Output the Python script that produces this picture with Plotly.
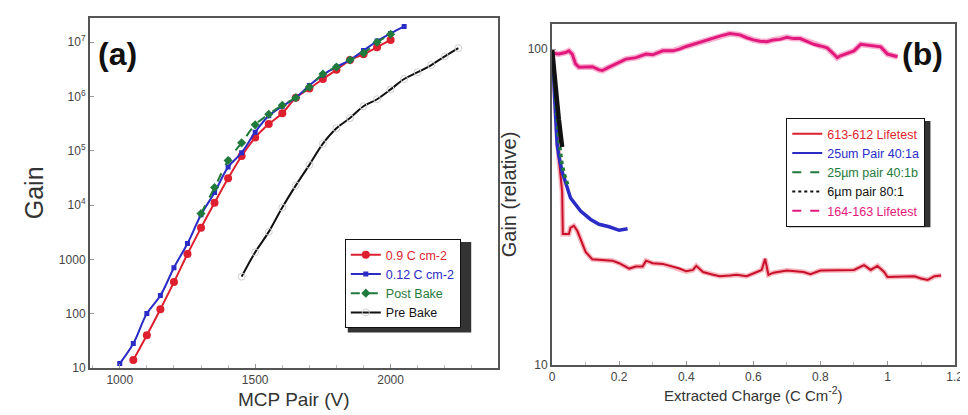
import plotly.graph_objects as go

# ---- panel (a): gain vs MCP pair voltage ----
red_v = [1050, 1100, 1150, 1200, 1250, 1300, 1350, 1400, 1450, 1500, 1550, 1600, 1650,
         1700, 1750, 1800, 1850, 1900, 1950, 2000]
red_gain = [14, 40, 120, 380, 1250, 3800, 11000, 31000, 80000, 175000, 310000, 490000, 950000,
            1.4e6, 2.1e6, 3.1e6, 4.7e6, 6.0e6, 8.1e6, 1.1e7]

blue_v = [1000, 1050, 1100, 1150, 1200, 1250, 1300, 1350, 1400, 1450, 1500, 1550, 1600,
          1650, 1700, 1750, 1800, 1850, 1900, 1950, 2000, 2050]
blue_gain = [12, 28, 100, 215, 700, 1950, 6600, 17000, 50000, 92000, 220000, 440000, 660000,
             950000, 1.6e6, 2.5e6, 3.5e6, 4.7e6, 7.0e6, 1.05e7, 1.45e7, 1.95e7]

green_v = [1300, 1350, 1400, 1450, 1500, 1550, 1600, 1650, 1700, 1750, 1800, 1850, 1900,
           1950, 2000]
green_gain = [7000, 21000, 66000, 140000, 300000, 470000, 690000, 950000, 1.5e6, 2.6e6,
              3.5e6, 4.7e6, 6.3e6, 1.0e7, 1.4e7]

pre_v = [1450, 1500, 1550, 1600, 1650, 1700, 1750, 1800, 1850, 1900, 1950, 2000, 2050,
         2100, 2150, 2200, 2250]
pre_gain = [480, 1350, 3200, 9000, 23000, 55000, 135000, 260000, 400000, 660000, 890000,
            1.35e6, 2.1e6, 2.8e6, 3.8e6, 5.5e6, 7.8e6]

gain_ticks = [10, 100, 1000, 1e4, 1e5, 1e6, 1e7]
gain_labels = ["10", "100", "1000", "10<sup>4</sup>", "10<sup>5</sup>", "10<sup>6</sup>",
               "10<sup>7</sup>"]

# ---- panel (b): relative gain vs extracted charge ----
pink_q = [0, 0.02, 0.04, 0.05, 0.06, 0.07, 0.08, 0.1, 0.12, 0.14, 0.15, 0.17, 0.2, 0.22,
          0.25, 0.28, 0.3, 0.33, 0.36, 0.38, 0.4, 0.42, 0.45, 0.48, 0.5, 0.53, 0.56, 0.58,
          0.6, 0.62, 0.64, 0.66, 0.68, 0.7, 0.72, 0.74, 0.76, 0.78, 0.8, 0.82, 0.84, 0.85,
          0.86, 0.88, 0.9, 0.92, 0.94, 0.96, 0.98, 1.0, 1.02, 1.03]
pink_rel = [97, 96.5, 97.6, 98.8, 96.5, 89.8, 87.7, 87.7, 88, 86, 85.6, 87.7, 91, 93,
            94, 96.5, 96, 98.8, 98.8, 100, 102, 103.6, 106, 108.7, 110, 112, 111, 108.7,
            107, 106, 105.6, 107, 107.4, 109, 108, 108, 106, 103.6, 102.4, 101, 96.5, 94,
            95.3, 97, 98.8, 103.6, 103, 102.4, 101.7, 96.5, 95.3, 94.6]

life_q = [0, 0.01, 0.02, 0.03, 0.032, 0.04, 0.05, 0.055, 0.065, 0.075, 0.09, 0.1, 0.12,
          0.15, 0.18, 0.2, 0.23, 0.25, 0.27, 0.28, 0.3, 0.33, 0.36, 0.38, 0.4, 0.42, 0.43,
          0.45, 0.48, 0.5, 0.53, 0.55, 0.58, 0.6, 0.62, 0.625, 0.635, 0.645, 0.66, 0.7,
          0.75, 0.77, 0.8, 0.85, 0.9, 0.93, 0.95, 0.97, 0.99, 1.0, 1.05, 1.08, 1.1, 1.12,
          1.14, 1.16]
life_rel = [100, 65, 45, 35.4, 26, 26, 26, 27.2, 27.6, 26.6, 24.2, 22.8, 21.6,
            21.5, 21.4, 21, 20.2, 20.5, 20.5, 21.4, 21, 20.9, 20.5, 20.2, 19.8, 20, 20.6,
            19.7, 19.3, 19.1, 19.2, 19.3, 19.1, 19.5, 19.9, 20, 21.7, 19.3, 19.6, 19.9,
            19.7, 19.4, 19.9, 20, 20, 20.7, 20, 20.6, 19.7, 19, 19, 19.1, 18.8, 18.6,
            19.1, 19.2]

pair_a_q = [0, 0.005, 0.01, 0.015, 0.02, 0.03, 0.055, 0.085, 0.115, 0.14, 0.17, 0.2, 0.225]
pair_a_rel = [100, 80, 62, 50, 46, 40.9, 33.8, 30.7, 28.9, 27.9, 27.4, 26.7, 27]

pair_b_q = [0, 0.01, 0.02, 0.03, 0.04, 0.05]
pair_b_rel = [100, 70, 52, 43, 39, 36.5]

pair_6_q = [0, 0.005, 0.01, 0.015, 0.02, 0.025, 0.03]
pair_6_rel = [100, 90, 78, 68, 60, 55, 49]

RED, BLUE, GREEN, BLACK, PINK = "#dd1f2f", "#2b2bc6", "#1f7a3c", "#111111", "#e2197c"
FONT = "Liberation Sans, Arial, sans-serif"


def lbl(text, color):
    return f"<span style='color:{color}'>{text}</span>"


fig = go.Figure()

# panel (a)
fig.add_trace(go.Scatter(x=red_v, y=red_gain, mode="lines+markers",
                         line=dict(color=RED, width=2, shape="spline"),
                         marker=dict(symbol="circle", size=8, color=RED),
                         name=lbl("0.9 C cm-2", RED), legend="legend"))
fig.add_trace(go.Scatter(x=blue_v, y=blue_gain, mode="lines+markers",
                         line=dict(color=BLUE, width=2, shape="spline"),
                         marker=dict(symbol="square", size=5, color=BLUE),
                         name=lbl("0.12 C cm-2", BLUE), legend="legend"))
fig.add_trace(go.Scatter(x=green_v, y=green_gain, mode="lines+markers",
                         line=dict(color=GREEN, width=2, dash="dash", shape="spline"),
                         marker=dict(symbol="diamond", size=7, color=GREEN),
                         name=lbl("Post Bake", GREEN), legend="legend"))
fig.add_trace(go.Scatter(x=pre_v, y=pre_gain, mode="lines+markers",
                         line=dict(color=BLACK, width=2, shape="spline"),
                         marker=dict(symbol="circle-open", size=7, color="#d0d0d0"),
                         name=lbl("Pre Bake", BLACK), legend="legend"))

# panel (b) – drawn traces
fig.add_trace(go.Scatter(x=pink_q, y=pink_rel, xaxis="x2", yaxis="y2", mode="lines",
                         line=dict(color="rgba(240,80,150,0.45)", width=6), showlegend=False))
fig.add_trace(go.Scatter(x=pink_q, y=pink_rel, xaxis="x2", yaxis="y2", mode="lines",
                         line=dict(color=PINK, width=3), showlegend=False))
fig.add_trace(go.Scatter(x=life_q, y=life_rel, xaxis="x2", yaxis="y2", mode="lines",
                         line=dict(color="rgba(240,90,110,0.45)", width=5), showlegend=False))
fig.add_trace(go.Scatter(x=life_q, y=life_rel, xaxis="x2", yaxis="y2", mode="lines",
                         line=dict(color="#c8102a", width=2), showlegend=False))
fig.add_trace(go.Scatter(x=pair_a_q, y=pair_a_rel, xaxis="x2", yaxis="y2", mode="lines",
                         line=dict(color=BLUE, width=3.5), showlegend=False))
fig.add_trace(go.Scatter(x=pair_b_q, y=pair_b_rel, xaxis="x2", yaxis="y2", mode="lines",
                         line=dict(color=GREEN, width=3.5, dash="dot"), showlegend=False))
fig.add_trace(go.Scatter(x=pair_6_q, y=pair_6_rel, xaxis="x2", yaxis="y2", mode="lines",
                         line=dict(color=BLACK, width=4.5), showlegend=False))

# panel (b) – legend entries
for name, color, dash in [("613-612 Lifetest", RED, "solid"), ("25um Pair 40:1a", BLUE, "solid"),
                          ("25µm pair 40:1b", GREEN, "dash"), ("6µm pair 80:1", BLACK, "dot"),
                          ("164-163 Lifetest", PINK, "dash")]:
    fig.add_trace(go.Scatter(x=[None], y=[None], xaxis="x2", yaxis="y2", mode="lines",
                             line=dict(color=color, width=2, dash=dash),
                             name=lbl(name, color), legend="legend2"))

axis_common = dict(showline=True, linecolor="#555555", linewidth=2, mirror=True,
                   ticks="inside", ticklen=4, tickcolor="#999999", showgrid=False, zeroline=False,
                   tickfont=dict(family=FONT, size=12, color="#444444"))

fig.update_layout(
    width=968, height=415, margin=dict(l=0, r=0, t=0, b=0),
    plot_bgcolor="white", paper_bgcolor="white",
    font=dict(family=FONT, color="#333333"),
    xaxis=dict(domain=[0.0826, 0.509], range=[890, 2395], tickvals=[1000, 1500, 2000],
               minor=dict(dtick=100, ticks="inside", ticklen=3, tickcolor="#bbbbbb"),
               title=dict(text="MCP Pair (V)", font=dict(size=19, color="#333333"), standoff=6),
               anchor="y", **axis_common),
    yaxis=dict(domain=[0.118, 0.976], type="log", range=[1, 7.45], tickvals=gain_ticks,
               ticktext=gain_labels,
               title=dict(text="Gain", font=dict(size=25, color="#333333"), standoff=8),
               anchor="x", **axis_common),
    xaxis2=dict(domain=[0.566, 0.987], range=[0, 1.2], tickvals=[0, 0.2, 0.4, 0.6, 0.8, 1, 1.2],
                ticktext=["0", "0.2", "0.4", "0.6", "0.8", "1", "1.2"],
                minor=dict(dtick=0.1, ticks="inside", ticklen=3, tickcolor="#bbbbbb"),
                title=dict(text="Extracted Charge (C Cm<sup>-2</sup>)",
                           font=dict(size=15, color="#333333"), standoff=4),
                anchor="y2", **axis_common),
    yaxis2=dict(domain=[0.125, 0.961], type="log", range=[1, 2.08], tickvals=[10, 100],
                ticktext=["10", "100"],
                title=dict(text="Gain (relative)", font=dict(size=20, color="#333333"), standoff=6),
                anchor="x2", **axis_common),
    legend=dict(x=338 / 968, y=1 - 235 / 415, xanchor="left", yanchor="top",
                bgcolor="white", bordercolor="#111111", borderwidth=1,
                font=dict(family=FONT, size=12.5), itemwidth=30, tracegroupgap=0),
    legend2=dict(x=785 / 968, y=1 - 112 / 415, xanchor="left", yanchor="top",
                 bgcolor="white", bordercolor="#111111", borderwidth=1,
                 font=dict(family=FONT, size=12.5), itemwidth=30, tracegroupgap=0),
    showlegend=True,
)

# drop shadows behind the legend boxes (legend is drawn on top)
for x0, x1, y0, y1 in [(341, 466, 238, 330), (788, 931, 115, 223)]:
    fig.add_shape(type="rect", xref="paper", yref="paper", x0=x0 / 968, x1=x1 / 968,
                  y0=1 - y1 / 415, y1=1 - y0 / 415, fillcolor="#333333",
                  line_width=0, layer="above")

fig.add_annotation(text="<b>(a)</b>", xref="paper", yref="paper", x=86 / 968, y=1 - 47 / 415,
                   xanchor="left", yanchor="middle", showarrow=False,
                   font=dict(family=FONT, size=32, color="#111111"))
fig.add_annotation(text="<b>(b)</b>", xref="paper", yref="paper", x=946 / 968, y=1 - 47 / 415,
                   xanchor="right", yanchor="middle", showarrow=False,
                   font=dict(family=FONT, size=32, color="#111111"))

fig.write_html("out.html")
